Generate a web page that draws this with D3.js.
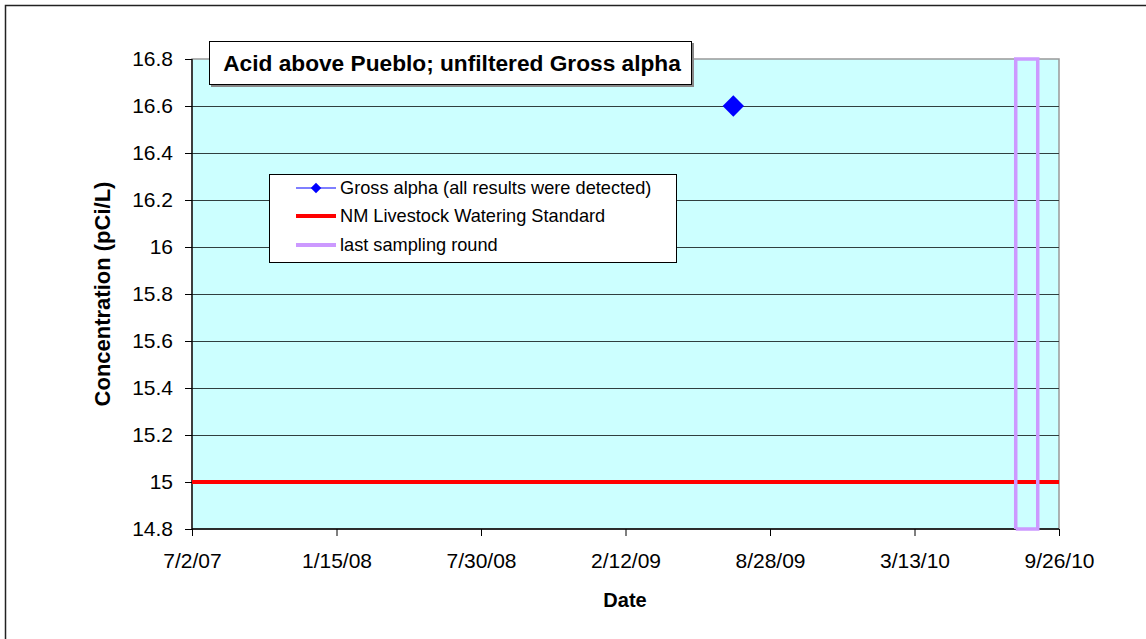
<!DOCTYPE html>
<html><head><meta charset="utf-8">
<script src="https://cdn.jsdelivr.net/npm/d3@7"></script>
<style>body{margin:0;background:#fff}svg{display:block;font-family:"Liberation Sans",Arial,sans-serif}</style>
</head><body>
<svg id="c" width="1146" height="639"></svg>
<script>
const title = "Acid above Pueblo; unfiltered Gross alpha";
const xTickLabels = ["7/2/07","1/15/08","7/30/08","2/12/09","8/28/09","3/13/10","9/26/10"];
const yTicks = [14.8,15,15.2,15.4,15.6,15.8,16,16.2,16.4,16.6,16.8];
const grossDates = ["2009-07-09"];
const grossValues = [16.6];
const stdDates = ["2007-07-02","2010-09-26"];
const stdValues = [15,15];
const lastDates = ["2010-07-29","2010-07-29","2010-08-28","2010-08-28","2010-07-29"];
const lastValues = [14.8,16.8,16.8,14.8,14.8];
const legendLabels = ["Gross alpha (all results were detected)","NM Livestock Watering Standard","last sampling round"];

const parse = d3.timeParse("%Y-%m-%d");
const svg = d3.select("#c");
const FF = "Liberation Sans, Arial, sans-serif";
const L=192,T=59,R=1059,B=529;
const x = d3.scaleTime().domain([parse("2007-07-02"),parse("2010-09-26")]).range([L,R]);
const y = d3.scaleLinear().domain([14.8,16.8]).range([B,T]);
const tickDates = xTickLabels.map(s=>d3.timeParse("%m/%d/%y")(s));

// outer frame
svg.append("rect").attr("x",5.5).attr("y",5.5).attr("width",1160).attr("height",660).attr("fill","#fff").attr("stroke","#222").attr("stroke-width",1.5);

// plot bg
svg.append("rect").attr("x",L).attr("y",T).attr("width",R-L).attr("height",B-T).attr("fill","#CCFFFF").attr("stroke","#999").attr("stroke-width",1.5);

// gridlines
svg.append("g").selectAll("line").data(yTicks.slice(1,-1)).join("line")
 .attr("x1",L).attr("x2",R).attr("y1",d=>y(d)+0.5).attr("y2",d=>y(d)+0.5).attr("stroke","#2f3f3f").attr("stroke-width",1);

// axes
const yAxis = d3.axisLeft(y).tickValues(yTicks).tickFormat(d=>String(+d.toFixed(1))).tickSize(7).tickPadding(12);
const gy = svg.append("g").attr("transform",`translate(${L},0)`).call(yAxis);
gy.attr("font-size",21).attr("font-family",FF);
gy.select(".domain").attr("stroke","#000").attr("stroke-width",1.3).attr("d",`M0,${T}V${B}`);
gy.selectAll(".tick line").attr("stroke","#000");
gy.selectAll("text").attr("fill","#000");

const xAxis = d3.axisBottom(x).tickValues(tickDates).tickFormat((d,i)=>xTickLabels[i]).tickSize(7).tickPadding(17);
const gx = svg.append("g").attr("transform",`translate(0,${B})`).call(xAxis);
gx.attr("font-size",21).attr("font-family",FF);
gx.select(".domain").attr("stroke","#000").attr("stroke-width",1.3).attr("d",`M${L},0H${R}`);
gx.selectAll(".tick line").attr("stroke","#000");
gx.selectAll("text").attr("fill","#000");

// series
const line = d3.line().x(d=>x(d[0])).y(d=>y(d[1]));
svg.append("path").datum(stdDates.map((d,i)=>[parse(d),stdValues[i]])).attr("d",line)
 .attr("fill","none").attr("stroke","#FF0000").attr("stroke-width",4);
svg.append("path").datum(lastDates.map((d,i)=>[parse(d),lastValues[i]])).attr("d",line)
 .attr("fill","none").attr("stroke","#CC99FF").attr("stroke-width",3.5).attr("stroke-linejoin","miter");
const diamond = d3.symbol().type(d3.symbolDiamond2).size(290);
svg.append("g").selectAll("path").data(grossDates.map((d,i)=>[parse(d),grossValues[i]])).join("path")
 .attr("d",diamond).attr("transform",d=>`translate(${x(d[0])},${y(d[1])})`).attr("fill","#0000FF");

// title box
svg.append("rect").attr("x",211).attr("y",43).attr("width",483).attr("height",44).attr("fill","#888");
svg.append("rect").attr("x",209.5).attr("y",41.5).attr("width",482).attr("height",43).attr("fill","#fff").attr("stroke","#000").attr("stroke-width",1);
svg.append("text").attr("x",452).attr("y",71).attr("text-anchor","middle").attr("font-size",22.7).attr("font-weight","bold").text(title);

// legend
const lg = svg.append("g");
lg.append("rect").attr("x",269.5).attr("y",174.5).attr("width",407).attr("height",88).attr("fill","#fff").attr("stroke","#000").attr("stroke-width",1);
const ly = [188,216,245];
lg.append("line").attr("x1",296).attr("x2",336).attr("y1",ly[0]).attr("y2",ly[0]).attr("stroke","#0000FF").attr("stroke-width",1.2);
lg.append("path").attr("d",d3.symbol().type(d3.symbolDiamond2).size(70)).attr("transform",`translate(316,${ly[0]})`).attr("fill","#0000FF");
lg.append("line").attr("x1",296).attr("x2",336).attr("y1",ly[1]).attr("y2",ly[1]).attr("stroke","#FF0000").attr("stroke-width",4);
lg.append("line").attr("x1",296).attr("x2",336).attr("y1",ly[2]).attr("y2",ly[2]).attr("stroke","#CC99FF").attr("stroke-width",4);
lg.selectAll("text").data(legendLabels).join("text").attr("x",340).attr("y",(d,i)=>ly[i]+6).attr("font-size",18.2).text(d=>d);

// axis titles
svg.append("text").attr("x",625).attr("y",607).attr("text-anchor","middle").attr("font-size",20).attr("font-weight","bold").text("Date");
svg.append("text").attr("transform","translate(110,294) rotate(-90)").attr("text-anchor","middle").attr("font-size",22).attr("font-weight","bold").text("Concentration (pCi/L)");
</script>
</body></html>
